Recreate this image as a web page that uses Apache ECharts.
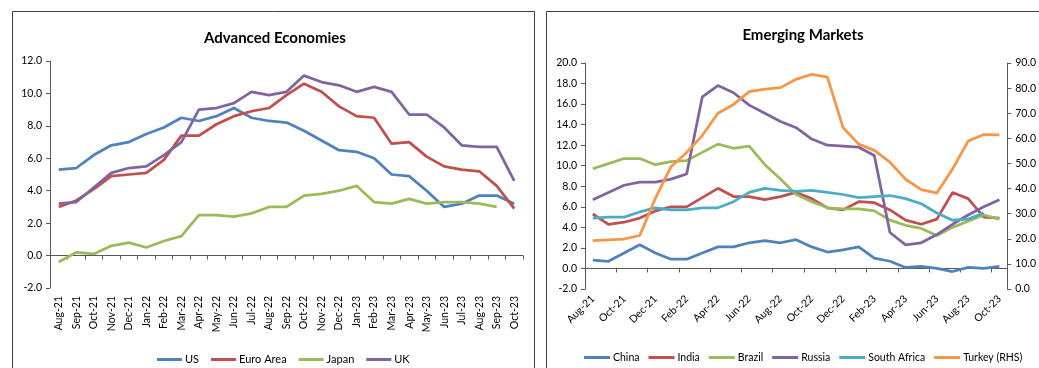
<!DOCTYPE html>
<html>
<head>
<meta charset="utf-8">
<script src="https://cdn.jsdelivr.net/npm/echarts@6/dist/echarts.min.js"></script>
<style>
  html, body { margin: 0; padding: 0; background: #fff; }
  #main { width: 1039px; height: 368px; }
</style>
</head>
<body>
<div id="main"></div>
<script>
var months = ['Aug-21','Sep-21','Oct-21','Nov-21','Dec-21','Jan-22','Feb-22','Mar-22','Apr-22','May-22','Jun-22','Jul-22',
    'Aug-22','Sep-22','Oct-22','Nov-22','Dec-22','Jan-23','Feb-23','Mar-23','Apr-23','May-23','Jun-23','Jul-23','Aug-23','Sep-23','Oct-23'];

// advanced economies
var us = [5.3, 5.4, 6.2, 6.8, 7.0, 7.5, 7.9, 8.5, 8.3, 8.6, 9.1, 8.5, 8.3, 8.2, 7.7, 7.1, 6.5, 6.4, 6.0, 5.0, 4.9, 4.0, 3.0, 3.2, 3.7, 3.7, 3.2];
var euroArea = [3.0, 3.4, 4.1, 4.9, 5.0, 5.1, 5.9, 7.4, 7.4, 8.1, 8.6, 8.9, 9.1, 9.9, 10.6, 10.1, 9.2, 8.6, 8.5, 6.9, 7.0, 6.1, 5.5, 5.3, 5.2, 4.3, 2.9];
var japan = [-0.4, 0.2, 0.1, 0.6, 0.8, 0.5, 0.9, 1.2, 2.5, 2.5, 2.4, 2.6, 3.0, 3.0, 3.7, 3.8, 4.0, 4.3, 3.3, 3.2, 3.5, 3.2, 3.3, 3.3, 3.2, 3.0, null];
var uk = [3.2, 3.3, 4.2, 5.1, 5.4, 5.5, 6.2, 7.0, 9.0, 9.1, 9.4, 10.1, 9.9, 10.1, 11.1, 10.7, 10.5, 10.1, 10.4, 10.1, 8.7, 8.7, 7.9, 6.8, 6.7, 6.7, 4.6];

// emerging markets
var china = [0.8, 0.7, 1.5, 2.3, 1.5, 0.9, 0.9, 1.5, 2.1, 2.1, 2.5, 2.7, 2.5, 2.8, 2.1, 1.6, 1.8, 2.1, 1.0, 0.7, 0.1, 0.2, 0.0, -0.3, 0.1, 0.0, 0.2];
var india = [5.3, 4.3, 4.5, 4.9, 5.6, 6.0, 6.0, 6.9, 7.8, 7.0, 7.0, 6.7, 7.0, 7.4, 6.8, 5.9, 5.7, 6.5, 6.4, 5.7, 4.7, 4.3, 4.8, 7.4, 6.8, 5.0, 4.9];
var brazil = [9.7, 10.2, 10.7, 10.7, 10.1, 10.4, 10.5, 11.3, 12.1, 11.7, 11.9, 10.1, 8.7, 7.2, 6.5, 5.9, 5.8, 5.8, 5.6, 4.7, 4.2, 3.9, 3.2, 4.0, 4.6, 5.2, 4.8];
var russia = [6.7, 7.4, 8.1, 8.4, 8.4, 8.7, 9.2, 16.7, 17.8, 17.1, 15.9, 15.1, 14.3, 13.7, 12.6, 12.0, 11.9, 11.8, 11.0, 3.5, 2.3, 2.5, 3.3, 4.3, 5.2, 6.0, 6.7];
var southAfrica = [4.9, 5.0, 5.0, 5.5, 5.9, 5.7, 5.7, 5.9, 5.9, 6.5, 7.4, 7.8, 7.6, 7.5, 7.6, 7.4, 7.2, 6.9, 7.0, 7.1, 6.8, 6.3, 5.4, 4.7, 4.8, 5.4, null];
var turkey = [19.3, 19.6, 19.9, 21.3, 36.1, 48.7, 54.4, 61.1, 70.0, 73.5, 78.6, 79.6, 80.2, 83.5, 85.5, 84.4, 64.3, 57.7, 55.2, 50.5, 43.7, 39.6, 38.2, 47.8, 58.9, 61.5, 61.4];

var font = 'Lato, "Liberation Sans", sans-serif';
var axisColor = '#595959';

var myChart = echarts.init(document.getElementById('main'));

function line(name, data, color, gridNo, yIndex) {
    return {
        name: name,
        type: 'line',
        data: data,
        xAxisIndex: gridNo * 2,
        yAxisIndex: yIndex,
        symbol: 'none',
        animation: false,
        lineStyle: { color: color, width: 2.75 },
        itemStyle: { color: color }
    };
}

// axis that only carries the rotated month labels at the bottom
function labelAxis(gridNo, interval, rotate) {
    return {
        type: 'category', gridIndex: gridNo, data: months, position: 'bottom',
        axisLine: { show: false, onZero: false },
        axisTick: { show: false },
        axisLabel: { interval: interval, rotate: rotate, margin: 8, color: '#000', fontFamily: font, fontSize: 10.5 }
    };
}
// axis line with ticks drawn on the zero level
function zeroAxis(gridNo, interval) {
    return {
        type: 'category', gridIndex: gridNo, data: months, position: 'top',
        axisLine: { show: true, onZero: true, onZeroAxisIndex: gridNo === 0 ? 0 : 1, lineStyle: { color: axisColor, width: 1 } },
        axisTick: { show: true, inside: true, interval: interval, length: 4, lineStyle: { color: axisColor } },
        axisLabel: { show: false }
    };
}
function valueAxis(gridNo, min, max, step, pos) {
    return {
        type: 'value', gridIndex: gridNo, min: min, max: max, interval: step, position: pos,
        splitLine: { show: false },
        axisLine: { show: true, lineStyle: { color: axisColor } },
        axisTick: { show: true, length: 4, lineStyle: { color: axisColor } },
        axisLabel: {
            margin: 8, color: '#000', fontFamily: font, fontSize: 10.5,
            formatter: function (v) { return v.toFixed(1); }
        }
    };
}

var option = {
    backgroundColor: '#fff',
    textStyle: { fontFamily: font },
    title: [
        { text: 'Advanced Economies', left: 270, top: 26, textAlign: 'center',
          textStyle: { fontFamily: font, fontSize: 15, fontWeight: 'bold', color: '#000' } },
        { text: 'Emerging Markets', left: 798, top: 23, textAlign: 'center',
          textStyle: { fontFamily: font, fontSize: 15, fontWeight: 'bold', color: '#000' } }
    ],
    graphic: [
        { type: 'rect', shape: { x: 12.5, y: 11.5, width: 522, height: 400 },
          style: { fill: 'none', stroke: '#404040', lineWidth: 1 }, silent: true },
        { type: 'rect', shape: { x: 546.5, y: 11.5, width: 520, height: 400 },
          style: { fill: 'none', stroke: '#404040', lineWidth: 1 }, silent: true }
    ],
    legend: [
        { data: ['US', 'Euro Area', 'Japan', 'UK'], left: 152, top: 349, width: 400, icon: 'rect',
          itemWidth: 25, itemHeight: 3, itemGap: 12,
          textStyle: { fontFamily: font, fontSize: 11, color: '#000', padding: [0, 0, 0, -2] } },
        { data: ['China', 'India', 'Brazil', 'Russia', 'South Africa', 'Turkey (RHS)'], left: 579, top: 347, width: 480, icon: 'rect',
          itemWidth: 26, itemHeight: 3, itemGap: 9,
          textStyle: { fontFamily: font, fontSize: 10.5, color: '#000', padding: [0, 0, 0, -2] } }
    ],
    grid: [
        { left: 50, right: 516, top: 61, bottom: 80 },
        { left: 585, right: 31, top: 63, bottom: 79 }
    ],
    xAxis: [
        labelAxis(0, 0, 90), zeroAxis(0, 0),
        labelAxis(1, 1, 45), zeroAxis(1, 1)
    ],
    yAxis: [
        valueAxis(0, -2, 12, 2, 'left'),
        valueAxis(1, -2, 20, 2, 'left'),
        valueAxis(1, 0, 90, 10, 'right')
    ],
    series: [
        line('US', us, '#4F81BD', 0, 0),
        line('Euro Area', euroArea, '#C0504D', 0, 0),
        line('Japan', japan, '#9BBB59', 0, 0),
        line('UK', uk, '#8064A2', 0, 0),
        line('China', china, '#4F81BD', 1, 1),
        line('India', india, '#C0504D', 1, 1),
        line('Brazil', brazil, '#9BBB59', 1, 1),
        line('Russia', russia, '#8064A2', 1, 1),
        line('South Africa', southAfrica, '#4BACC6', 1, 1),
        line('Turkey (RHS)', turkey, '#F79646', 1, 2)
    ]
};
myChart.setOption(option, true);
</script>
</body>
</html>
